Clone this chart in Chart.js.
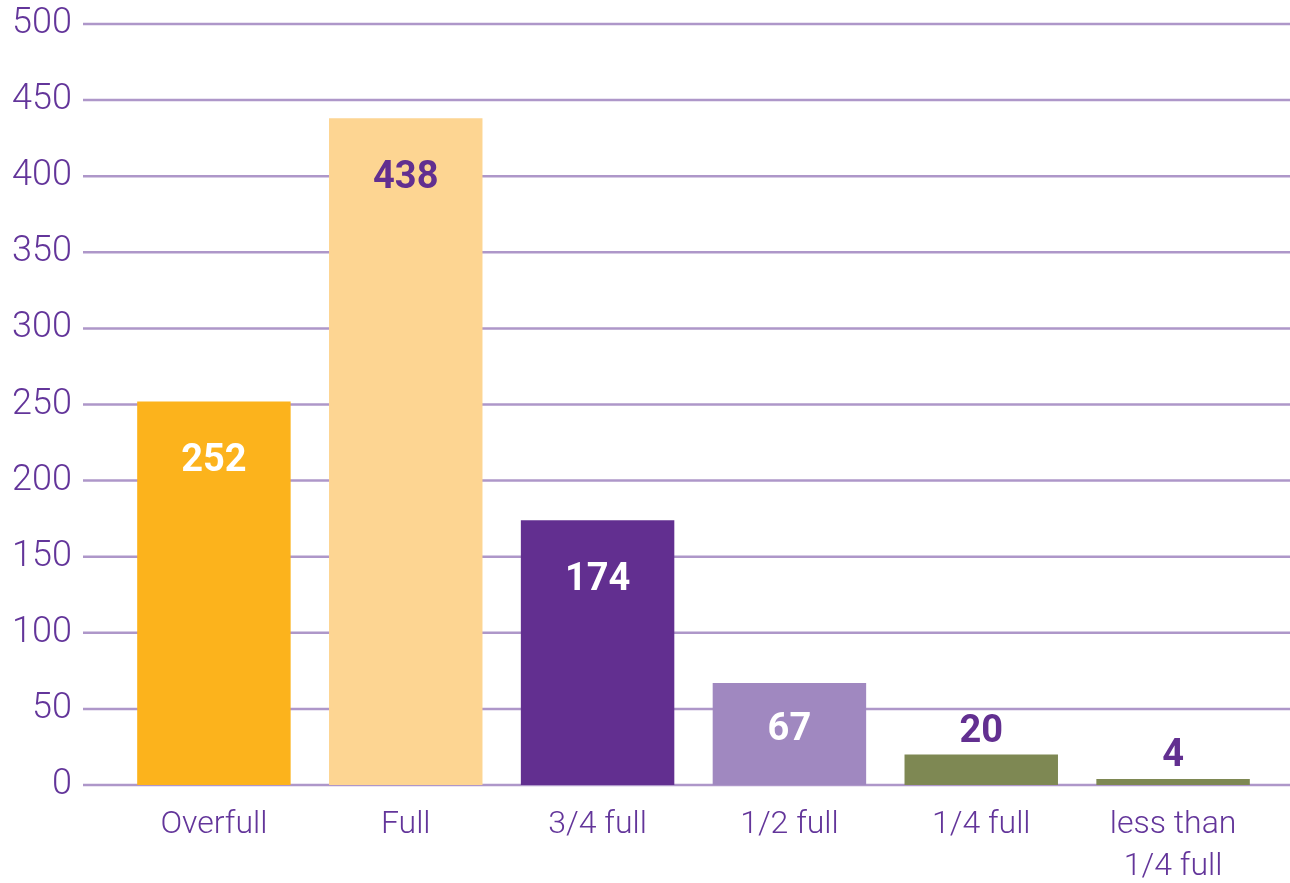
<!DOCTYPE html>
<html>
<head>
<meta charset="utf-8">
<script src="https://cdn.jsdelivr.net/npm/chart.js@4/dist/chart.umd.min.js"></script>
<style>
  html, body { margin: 0; padding: 0; background: #ffffff; }
  #wrap { width: 1290px; height: 883px; }
</style>
</head>
<body>
<div id="wrap"><canvas id="fillChart"></canvas></div>
<script>
const categories = ["Overfull", "Full", "3/4 full", "1/2 full", "1/4 full", ["less than", "1/4 full"]];
const counts = [252, 438, 174, 67, 20, 4];
const barColors = ["#fcb31c", "#fdd592", "#622f90", "#a088c0", "#7e8853", "#7e8853"];
const labelColors = ["#ffffff", "#622f90", "#ffffff", "#ffffff", "#622f90", "#622f90"];

const purple = "#63359a";
const gridColor = "#ae97c9";

// horizontal rules run wider than the plot area, so draw them here
const wideGrid = {
  id: "wideGrid",
  beforeDatasetsDraw(chart) {
    const { ctx, scales } = chart;
    ctx.save();
    ctx.strokeStyle = gridColor;
    ctx.lineWidth = 2.5;
    scales.y.ticks.forEach((tick) => {
      const y = scales.y.getPixelForValue(tick.value);
      ctx.beginPath();
      ctx.moveTo(83, y);
      ctx.lineTo(chart.width, y);
      ctx.stroke();
    });
    ctx.restore();
  },
};

const valueLabels = {
  id: "valueLabels",
  afterDatasetsDraw(chart) {
    const { ctx } = chart;
    const meta = chart.getDatasetMeta(0);
    ctx.save();
    ctx.font = "bold 38px Roboto";
    ctx.textAlign = "center";
    ctx.textBaseline = "middle";
    meta.data.forEach((bar, i) => {
      const value = counts[i];
      // big bars get the number inside near the top, short ones above
      const inside = Math.min(60, (bar.base - bar.y) * 0.47);
      const y = value > 50 ? bar.y + inside : bar.y - 22;
      ctx.fillStyle = labelColors[i];
      ctx.fillText(String(value), bar.x, y);
    });
    ctx.restore();
  },
};

new Chart(document.getElementById("fillChart"), {
  type: "bar",
  data: {
    labels: categories,
    datasets: [
      {
        data: counts,
        backgroundColor: barColors,
        borderWidth: 0,
        categoryPercentage: 0.8,
        barPercentage: 1,
      },
    ],
  },
  options: {
    responsive: true,
    maintainAspectRatio: false,
    animation: false,
    layout: {
      padding: { top: 24, right: 21, bottom: 0, left: 0 },
    },
    plugins: {
      legend: { display: false },
      tooltip: { enabled: false },
    },
    scales: {
      x: {
        grid: { display: false, drawTicks: false },
        border: { display: false },
        ticks: {
          color: purple,
          padding: 19,
          maxRotation: 0,
          autoSkip: false,
          font: { family: "Roboto", size: 32, weight: "300", lineHeight: 1.32 },
        },
        afterFit(scale) {
          scale.height = 98;
        },
      },
      y: {
        min: 0,
        max: 500,
        grid: { display: false, drawTicks: false },
        border: { display: false },
        ticks: {
          stepSize: 50,
          color: purple,
          padding: 46,
          font: { family: "Roboto", size: 36, weight: "300" },
        },
        afterFit(scale) {
          scale.width = 118;
          // tick padding is horizontal here, don't let it push the plot down
          scale.paddingTop = 0;
          scale.paddingBottom = 0;
        },
      },
    },
  },
  plugins: [wideGrid, valueLabels],
});
</script>
</body>
</html>
